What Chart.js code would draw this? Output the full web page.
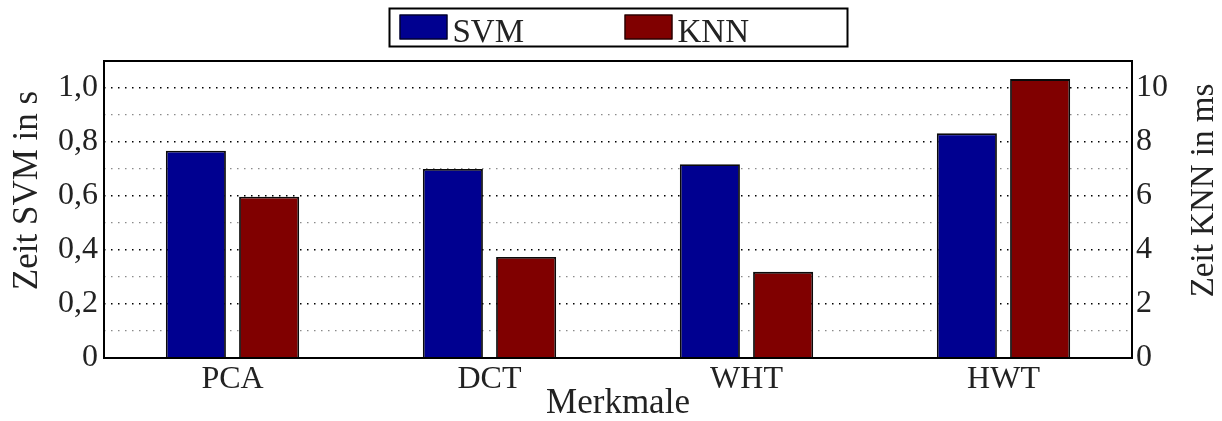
<!DOCTYPE html>
<html lang="de">
<head>
  <meta charset="UTF-8">
  <title>Zeit SVM / KNN</title>
  <script src="https://cdn.jsdelivr.net/npm/chart.js"></script>
  <style>
    html, body { margin: 0; padding: 0; background: #fff; }
    #wrap { width: 1222px; height: 421px; position: relative; }
  </style>
</head>
<body>
  <div id="wrap"><canvas id="grafico"></canvas></div>

  <script>
    const merkmale = ['PCA', 'DCT', 'WHT', 'HWT'];
    const zeitSVM = [0.768, 0.700, 0.718, 0.832];   // s
    const zeitKNN = [5.97, 3.74, 3.19, 10.33];       // ms
    const serien = ['SVM', 'KNN'];
    const farben = ['#000090', '#800000'];
    const titelLinks = 'Zeit SVM in s';
    const titelRechts = 'Zeit KNN in ms';

    const schrift = 'Liberation Serif';
    const textFarbe = '#222';

    function fmtKomma(v) {
      if (Math.abs(v) < 1e-9) return '0';
      return v.toFixed(1).replace('.', ',');
    }

    // gedrehter Titel, von unten nach oben
    function senkrecht(c, text, x, y, groesse) {
      c.save();
      c.translate(x, y);
      c.rotate(-Math.PI / 2);
      c.font = groesse + 'px "' + schrift + '"';
      c.fillStyle = textFarbe;
      c.textAlign = 'center';
      c.textBaseline = 'alphabetic';
      c.fillText(text, 0, 0);
      c.restore();
    }

    // Rahmen um den Plotbereich, Achsentitel links/rechts, Legende oben
    const rahmenPlugin = {
      id: 'rahmen',
      afterDraw(chart) {
        const c = chart.ctx;
        const a = chart.chartArea;
        c.save();
        c.strokeStyle = '#000';
        c.lineWidth = 2;
        c.strokeRect(a.left, a.top, a.right - a.left, a.bottom - a.top);

        const ym = (a.top + a.bottom) / 2 - 19;
        senkrecht(c, titelLinks, 37, ym, 35);
        senkrecht(c, titelRechts, 1213, ym, 33);

        // Legende
        const mitte = (a.left + a.right) / 2;
        const bw = 458, bh = 38;
        const lx = Math.round(mitte - bw / 2) + 0.5, ly = 8.5;
        c.fillStyle = '#fff';
        c.fillRect(lx, ly, bw, bh);
        c.strokeRect(lx, ly, bw, bh);
        c.font = '33px "' + schrift + '"';
        c.textBaseline = 'alphabetic';
        c.textAlign = 'left';
        c.lineWidth = 1;
        chart.data.datasets.forEach((ds, i) => {
          const sx = lx + 10 + i * 225;
          c.fillStyle = ds.backgroundColor;
          c.fillRect(sx, ly + 6, 48, 25);
          c.strokeStyle = '#000';
          c.strokeRect(sx + 0.5, ly + 6.5, 47, 24);
          c.fillStyle = textFarbe;
          c.fillText(ds.label, sx + 53, ly + 33);
        });
        c.restore();
      }
    };

    const ctx = document.getElementById('grafico').getContext('2d');
    new Chart(ctx, {
      type: 'bar',
      data: {
        labels: merkmale,
        datasets: [
          {
            label: serien[0],
            data: zeitSVM,
            yAxisID: 'ySVM',
            backgroundColor: farben[0],
            borderColor: '#0a0a0a',
            borderWidth: 1.8,
            categoryPercentage: 0.57,
            barPercentage: 0.82
          },
          {
            label: serien[1],
            data: zeitKNN,
            yAxisID: 'yKNN',
            backgroundColor: farben[1],
            borderColor: '#0a0a0a',
            borderWidth: 1.8,
            categoryPercentage: 0.57,
            barPercentage: 0.82
          }
        ]
      },
      options: {
        responsive: true,
        maintainAspectRatio: false,
        animation: false,
        layout: { padding: { top: 61, left: 0, right: 0, bottom: 0 } },
        plugins: {
          legend: { display: false },
          tooltip: { enabled: false }
        },
        scales: {
          x: {
            grid: { display: false, drawTicks: false },
            border: { display: false },
            ticks: {
              color: textFarbe,
              font: { family: schrift, size: 32 },
              padding: 2
            },
            title: {
              display: true,
              text: 'Merkmale',
              color: textFarbe,
              font: { family: schrift, size: 35, lineHeight: 1 },
              padding: { top: -4, bottom: 0 }
            },
            afterFit(scale) { scale.height = 63; }
          },
          ySVM: {
            position: 'left',
            min: 0,
            max: 1.1,
            grid: {
              drawTicks: false,
              lineWidth: (g) => (Math.round(g.tick.value * 10) % 2 === 0 ? 1.6 : 1.2),
              color: (g) => {
                const v = Math.round(g.tick.value * 10);
                if (v === 0 || v === 11) return 'rgba(0,0,0,0)';
                return v % 2 === 0 ? '#000' : '#8a8a8a';
              }
            },
            border: { display: false, dash: [1.5, 5.5] },
            ticks: {
              stepSize: 0.1,
              autoSkip: false,
              color: textFarbe,
              font: { family: schrift, size: 32 },
              padding: 6,
              callback: (v) => {
                const n = Math.round(v * 10);
                if (n % 2 !== 0 || n > 10) return '';
                return fmtKomma(v);
              }
            },
            afterFit(scale) { scale.width = 104; }
          },
          yKNN: {
            position: 'right',
            min: 0,
            max: 11,
            border: { display: false },
            grid: { drawOnChartArea: false, drawTicks: false },
            ticks: {
              stepSize: 1,
              autoSkip: false,
              color: textFarbe,
              font: { family: schrift, size: 32 },
              padding: 4,
              callback: (v) => (v % 2 === 0 && v <= 10 ? String(v) : '')
            },
            afterFit(scale) { scale.width = 90; }
          }
        }
      },
      plugins: [rahmenPlugin]
    });
  </script>
</body>
</html>
